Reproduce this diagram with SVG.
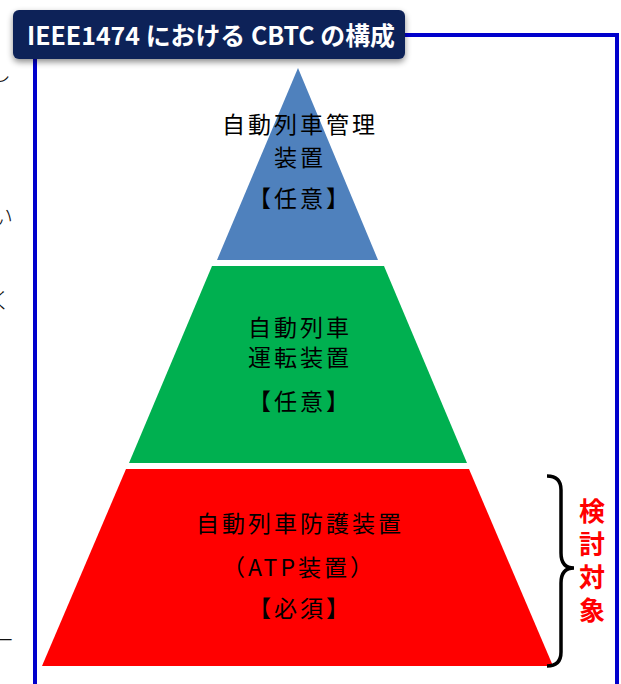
<svg xmlns="http://www.w3.org/2000/svg" width="621" height="684" viewBox="0 0 621 684">
<defs>
<style>
.lbl{font-family:"Noto Sans CJK JP","Noto Sans",sans-serif;font-size:23px;fill:#000;text-anchor:middle;letter-spacing:3px}
.frag{font-family:"Noto Sans CJK JP",sans-serif;font-size:22px;fill:#111;font-weight:300}
.frame{stroke:#0000CC;stroke-width:4;fill:none}
</style>
<filter id="sh" x="-5%" y="-20%" width="110%" height="160%">
<feDropShadow dx="0" dy="3" stdDeviation="3" flood-color="#000" flood-opacity="0.45"/>
</filter>
</defs>
<rect width="621" height="684" fill="#fff"/>
<g id="margin-fragments">
<text class="frag" x="-11" y="80">し</text>
<text class="frag" x="-9" y="224">い</text>
<text class="frag" x="-11" y="308">く</text>
<text class="frag" x="-8" y="648">ー</text>
</g>
<g id="frame">
<polyline class="frame" points="35,684 35,40"/>
<polyline class="frame" points="380,35 617,35 617,684"/>
</g>
<g id="title">
<rect x="13" y="10" width="392" height="49" rx="6" fill="#0E2258" filter="url(#sh)"/>
<text x="27" y="45" textLength="368" lengthAdjust="spacingAndGlyphs" font-family="'Noto Sans CJK JP',sans-serif" font-size="25" font-weight="bold" fill="#fff">IEEE1474 における CBTC の構成</text>
</g>
<g id="top-tier">
<polygon points="298,68 378,260 217,260" fill="#4F81BD"/>
<text class="lbl"><tspan x="300" y="133">自動列車管理</tspan><tspan x="300" y="166">装置</tspan></text>
<text class="lbl" x="300" y="207">【任意】</text>
</g>
<g id="middle-tier">
<polygon points="212,266 384,266 467,463 129,463" fill="#00B050"/>
<text class="lbl"><tspan x="300" y="336">自動列車</tspan><tspan x="300" y="366">運転装置</tspan></text>
<text class="lbl" x="300" y="410">【任意】</text>
</g>
<g id="bottom-tier">
<polygon points="126,469 469,469 553,666 42,666" fill="#FF0000"/>
<text class="lbl" x="300" y="532">自動列車防護装置</text>
<text class="lbl" x="299" y="576" letter-spacing="1">（ATP装置）</text>
<text class="lbl" x="300" y="617">【必須】</text>
</g>
<g id="connectors">
<path d="M547,476 Q561,476 561,490 L561,553 Q561,568 574,568 Q561,568 561,583 L561,652 Q561,666 547,666" fill="none" stroke="#000" stroke-width="3.5"/>
</g>
<g id="scope-label">
<text x="592" y="498" writing-mode="vertical-rl" font-family="'Noto Sans CJK JP',sans-serif" font-size="26" font-weight="bold" fill="#FF0000" letter-spacing="7">検討対象</text>
</g>
</svg>
